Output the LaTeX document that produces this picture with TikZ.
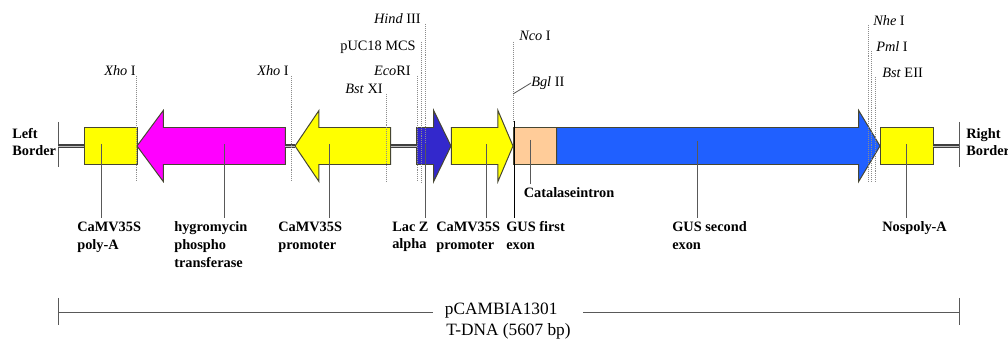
\documentclass[tikz,border=0pt]{standalone}
\usepackage{fontspec}
\setmainfont{Liberation Serif}
\usepackage{xcolor}
\usetikzlibrary{shapes.arrows,calc}
\definecolor{partyellow}{RGB}{255,255,0}
\definecolor{partmagenta}{RGB}{255,0,255}
\definecolor{gusblue}{RGB}{32,96,255}
\definecolor{lacblue}{RGB}{51,40,204}
\definecolor{intronpeach}{RGB}{255,204,153}
\definecolor{edgegray}{RGB}{70,70,50}

\begin{document}
\begin{tikzpicture}[
	x=0.025cm,y=-0.025cm,
	font=\fontsize{10.2}{12.6}\selectfont,
	boxpart/.style={draw=edgegray, line width=0.7pt, outer sep=0pt, inner sep=0pt, minimum height=0.925cm},
	arrowpart/.style={single arrow, draw=edgegray, line width=0.7pt, outer sep=0pt, inner xsep=0pt, inner ysep=0.45cm, minimum width=1.75cm, single arrow head extend=0.425cm, single arrow head indent=0pt, anchor=tip},
	leftpart/.style={arrowpart, shape border rotate=180},
	genelabel/.style={font=\fontsize{10.2}{12.6}\selectfont\bfseries, align=left, anchor=north west, inner xsep=0pt, inner ysep=2.5pt},
	sitelabel/.style={inner sep=0pt},
	leader/.style={draw=black!65, line width=0.6pt},
	siteline/.style={draw=black!45, line width=0.4pt, densely dotted},
	linker/.style={draw=black!75, line width=0.75pt, double=white!75!black, double distance=0.7pt},
	bar/.style={draw=black!65, line width=0.7pt}
	]
	\useasboundingbox (0,0) rectangle (1008,340);

	% Parts
	\node[boxpart, fill=partyellow, minimum width=1.325cm, anchor=west] (polya) at (84,146) {};
	\node[leftpart, fill=partmagenta, minimum height=3.71cm, single arrow tip angle=107] (hpt) at (137,146) {};
	\node[leftpart, fill=partyellow, minimum height=2.39cm, single arrow tip angle=112] (prom1) at (295,146) {};
	\node[arrowpart, fill=lacblue, minimum height=0.86cm, single arrow tip angle=128] (lacz) at (451,146) {};
	\node[arrowpart, fill=partyellow, minimum height=1.54cm, single arrow tip angle=134] (prom2) at (513,146) {};
	\node[boxpart, fill=intronpeach, minimum width=1.1cm, anchor=west] (intron) at (513,146) {};
	\node[arrowpart, fill=gusblue, minimum height=8.08cm, single arrow tip angle=118] (gus) at (880,146) {};
	\node[boxpart, fill=partyellow, minimum width=1.325cm, anchor=west] (nos) at (880,146) {};

	% Borders
	\coordinate (lborder) at (58,146);
	\coordinate (rborder) at (959,146);
	\draw[bar] ([yshift=0.6cm]lborder) -- ([yshift=-0.525cm]lborder);
	\draw[bar] ([yshift=0.6cm]rborder) -- ([yshift=-0.525cm]rborder);
	\node[font=\fontsize{10.2}{12.6}\selectfont\bfseries, align=left, anchor=west, inner sep=0pt] (lbtext) at (12,142) {Left\\Border};
	\node[font=\fontsize{10.2}{12.6}\selectfont\bfseries, align=left, anchor=west, inner sep=0pt] (rbtext) at (966,142) {Right\\Border};

	% Linkers
	\draw[linker] (lborder) -- (polya.west);
	\draw[linker] (hpt.tail) -- (prom1.tip);
	\draw[linker] (prom1.tail) -- (lacz.tail);
	\draw[linker] (nos.east) -- (rborder);

	% Restriction sites
	\coordinate (sitebase) at (0,182);
	\coordinate (xhoa) at (136,76);
	\coordinate (xhob) at (291,76);
	\coordinate (bstx) at (386,94);
	\coordinate (eco) at (417,76);
	\coordinate (puc) at (421,42);
	\coordinate (hind) at (425,24);
	\coordinate (nco) at (513,42);
	\coordinate (nhe) at (868,25);
	\coordinate (pml) at (871,51);
	\coordinate (bste) at (875,77);
	\coordinate (ncobase) at (513,122);
	\coordinate (bgltick) at (513,94);
	\draw[siteline] (xhoa) -- (xhoa |- sitebase);
	\draw[siteline] (xhob) -- (xhob |- sitebase);
	\draw[siteline] (bstx) -- (bstx |- sitebase);
	\draw[siteline] (eco) -- (eco |- sitebase);
	\draw[siteline] (puc) -- (puc |- sitebase);
	\draw[siteline] (hind) -- (hind |- sitebase);
	\draw[siteline] (nco) -- (ncobase);
	\draw[siteline] (nhe) -- (nhe |- sitebase);
	\draw[siteline] (pml) -- (pml |- sitebase);
	\draw[siteline] (bste) -- (bste |- sitebase);

	\node[sitelabel, anchor=east] (lxhoa) at (136,71) {\textit{Xho} I};
	\node[sitelabel, anchor=east] (lxhob) at (289,71) {\textit{Xho} I};
	\node[sitelabel, anchor=east] (lbstx) at (383,89) {\textit{Bst} XI};
	\node[sitelabel, anchor=east] (leco) at (411,71) {\textit{Eco}RI};
	\node[sitelabel, anchor=east] (lpuc) at (416,47) {pUC18 MCS};
	\node[sitelabel, anchor=east] (lhind) at (421,19) {\textit{Hind} III};
	\node[sitelabel, anchor=west] (lnco) at (519,36) {\textit{Nco} I};
	\node[sitelabel, anchor=west] (lbgl) at (531,83) {\textit{Bgl} II};
	\node[sitelabel, anchor=west] (lnhe) at (873,21) {\textit{Nhe} I};
	\node[sitelabel, anchor=west] (lpml) at (876,47) {\textit{Pml} I};
	\node[sitelabel, anchor=west] (lbste) at (882,73) {\textit{Bst} EII};
	\draw[leader] (bgltick) -- (lbgl.west);

	% Gene labels
	\node[genelabel] (lpolya) at (77,218) {CaMV35S\\poly-A};
	\node[genelabel] (lhpt) at (174,218) {hygromycin\\phospho\\transferase};
	\node[genelabel] (lprom1) at (278,218) {CaMV35S\\promoter};
	\node[genelabel] (llacz) at (392,218) {Lac Z\\alpha};
	\node[genelabel] (lprom2) at (436,218) {CaMV35S\\promoter};
	\node[genelabel] (lexon1) at (506,218) {GUS first\\exon};
	\node[genelabel, anchor=west] (lintron) at (523.5,193) {Catalaseintron};
	\node[genelabel] (lexon2) at (672,218) {GUS second\\exon};
	\node[genelabel] (lnos) at (882,218) {Nospoly-A};

	% Leaders
	\coordinate (tpolya) at (101.5,144);
	\coordinate (thpt) at (224,144);
	\coordinate (tprom1) at (329,144);
	\coordinate (tlacz) at (425,144);
	\coordinate (tprom2) at (486,144);
	\coordinate (texon1) at (514,121);
	\coordinate (tintron) at (530,140);
	\coordinate (texon2) at (697,141);
	\coordinate (tnos) at (906.5,144);
	\draw[leader] (tpolya) -- (tpolya |- lpolya.north);
	\draw[leader] (thpt) -- (thpt |- lhpt.north);
	\draw[leader] (tprom1) -- (tprom1 |- lprom1.north);
	\draw[leader] (tlacz) -- (tlacz |- llacz.north);
	\draw[leader] (tprom2) -- (tprom2 |- lprom2.north);
	\draw[leader, draw=black] (texon1) -- (texon1 |- lexon1.north);
	\draw[leader] (tintron) -- (tintron |- lintron.north);
	\draw[leader] (texon2) -- (texon2 |- lexon2.north);
	\draw[leader] (tnos) -- (tnos |- lnos.north);

	% T-DNA span
	\coordinate (lspan) at (58,312);
	\coordinate (rspan) at (959,312);
	\node[font=\fontsize{12.3}{14}\selectfont, text width=3.15cm, align=left, inner xsep=0.3cm, inner ysep=0pt] (ltitle) at (508,311) {pCAMBIA1301};
	\node[font=\fontsize{12.3}{14}\selectfont, inner sep=0pt] (ltdna) at (508.5,331) {T-DNA (5607 bp)};
	\draw[bar] (lspan) -- (lspan -| ltitle.west);
	\draw[bar] (ltitle.east |- rspan) -- (rspan);
	\draw[bar] ([yshift=0.35cm]lspan) -- ([yshift=-0.325cm]lspan);
	\draw[bar] ([yshift=0.35cm]rspan) -- ([yshift=-0.325cm]rspan);
\end{tikzpicture}
\end{document}
